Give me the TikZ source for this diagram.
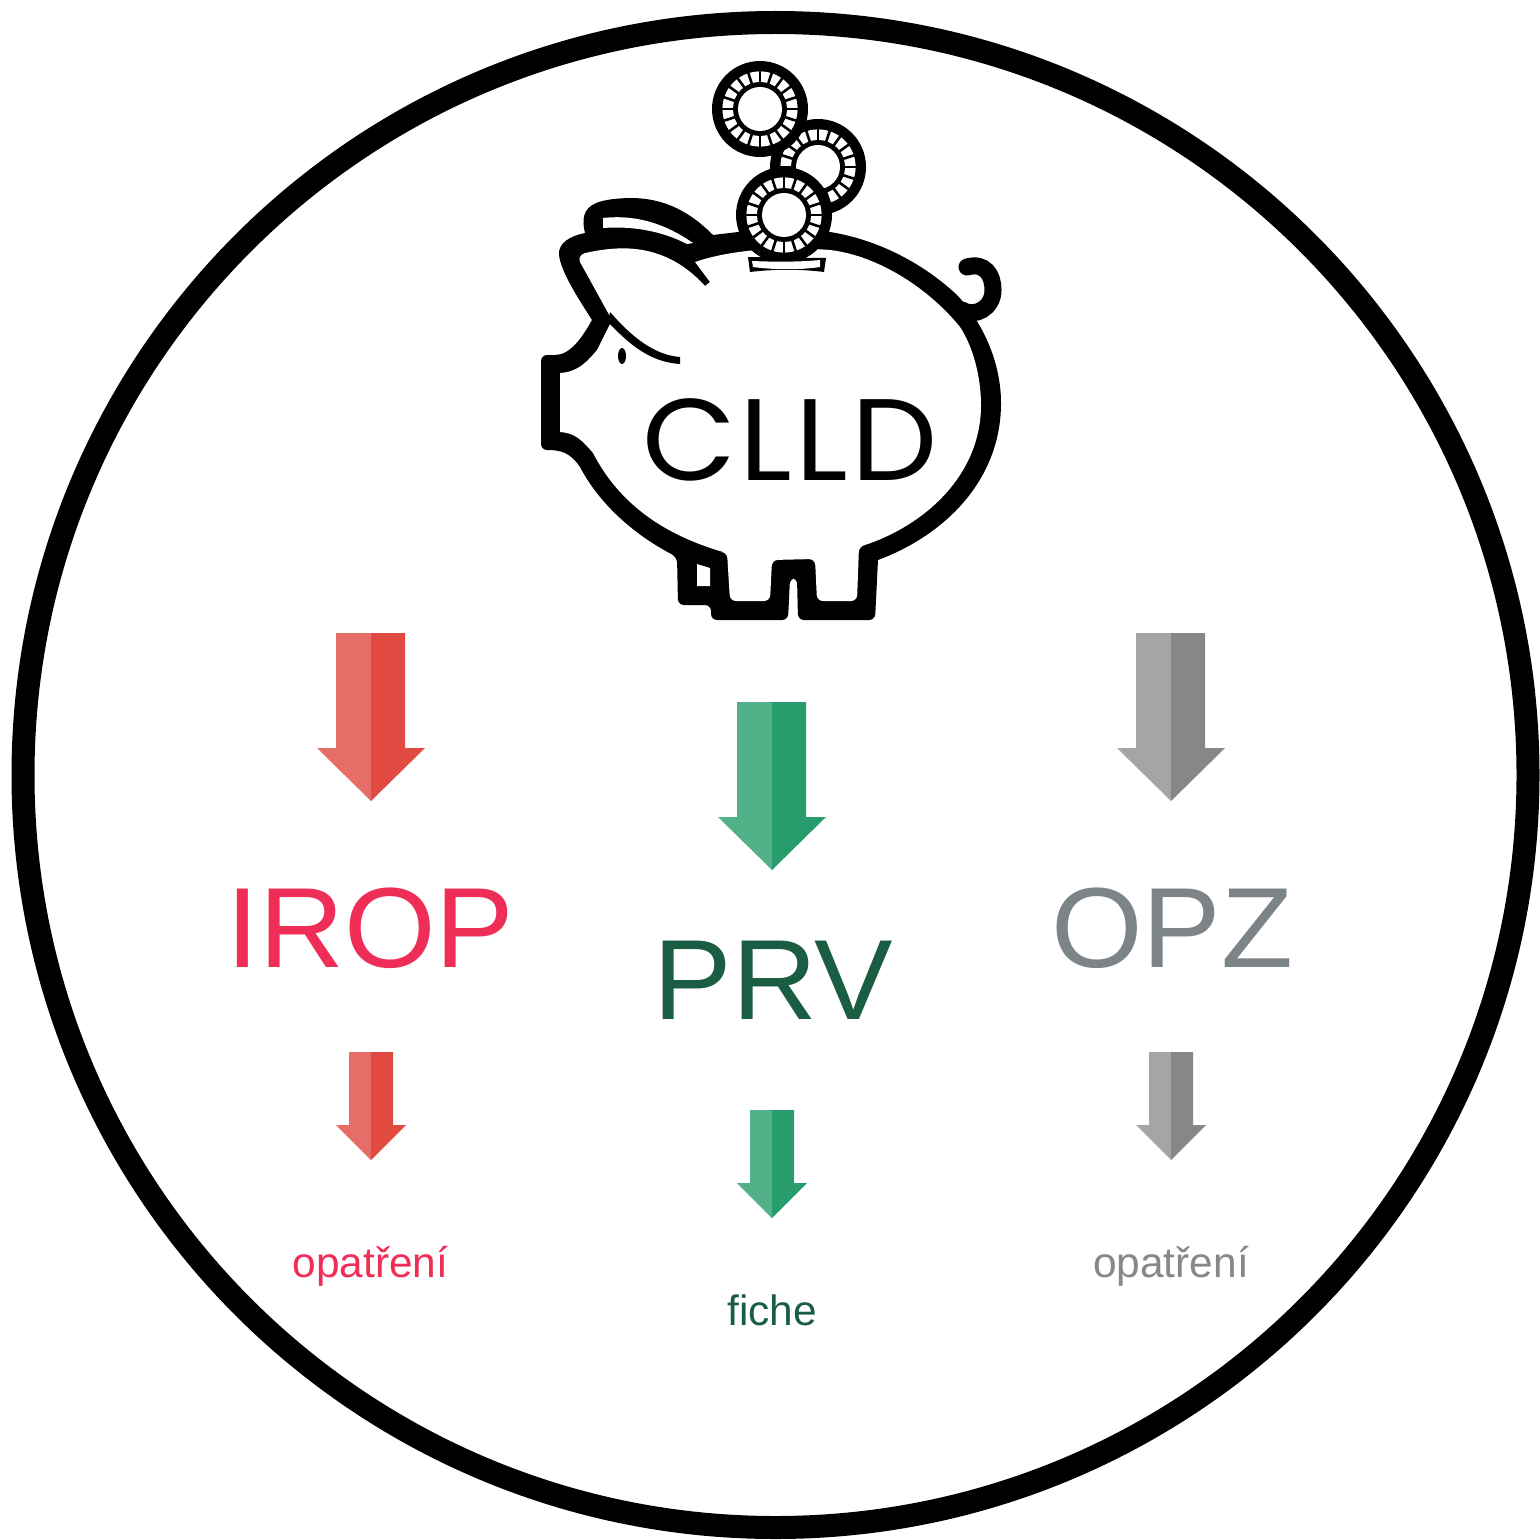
\documentclass[tikz,border=0pt]{standalone}
\usepackage{fontspec}
\setmainfont{Liberation Sans}
\newfontfamily\cllddfont[LetterSpace=3,FakeStretch=1.05]{Poppins}
\newfontfamily\bigfont[FakeStretch=1.032]{Liberation Sans}
\definecolor{iropred}{HTML}{EE2E57}
\definecolor{redlight}{HTML}{E76E68}
\definecolor{reddark}{HTML}{E04A41}
\definecolor{prvgreen}{HTML}{1A5D43}
\definecolor{greenlight}{HTML}{52B189}
\definecolor{greendark}{HTML}{289C6C}
\definecolor{opzgrey}{HTML}{7D8488}
\definecolor{greylight}{HTML}{A5A5A5}
\definecolor{greydark}{HTML}{878787}
\tikzset{
	bigtext/.style={anchor=base, inner sep=0, font=\bigfont\fontsize{57}{57}\selectfont},
	smalltext/.style={anchor=base, inner sep=0, font=\fontsize{21.2}{21.2}\selectfont},
	coin/.pic={
		\fill[black] (0,0) circle[radius=24pt];
		\fill[white] (0,0) circle[radius=18.8pt];
		\foreach \a in {0,18,...,342}
			\draw[black, line width=1.3pt] (\a:12pt) -- (\a:19pt);
		\fill[black] (0,0) circle[radius=13.5pt];
		\fill[white] (0,0) circle[radius=11pt];
	}
}
\begin{document}
\begin{tikzpicture}[x=0.5pt, y=-0.5pt]
\useasboundingbox (0,0) rectangle (1539,1540);
\draw[black, line width=11.5pt] (775.5,775) circle[radius=376.25pt];
\fill[black] (555,355) .. controls (570,355) and (582,338) .. (592,320)
	.. controls (578,298) and (561,272) .. (559,255)
	.. controls (558,243) and (570,236) .. (585,233)
	.. controls (578,205) and (595,199) .. (630,198)
	.. controls (665,198) and (690,212) .. (713,235)
	-- (738,232) -- (830,232)
	.. controls (880,240) and (925,265) .. (957,295)
	.. controls (985,325) and (1001,365) .. (1001,403)
	.. controls (1001,480) and (945,535) .. (878,560)
	[rounded corners=3pt] -- (875,620) -- (798,620) -- (797,578) -- (790,578) -- (788,620) -- (711,620) -- (711,605) -- (678,605) -- (677,557) [sharp corners]
	.. controls (635,535) and (600,505) .. (580,467)
	.. controls (570,452) and (560,450) .. (547,450)
	[rounded corners=3pt] -- (541,450) -- (541,355) [sharp corners] -- cycle;
\fill[white] (560,373) .. controls (580,372) and (590,358) .. (597,350) -- (612,320) -- (580,262)
	.. controls (578,255) and (583,253) .. (590,252)
	.. controls (620,246) and (665,242) .. (705,286)
	-- (710,282) -- (695,262)
	.. controls (730,250) and (780,246) .. (830,250)
	.. controls (880,256) and (930,290) .. (960,327)
	.. controls (972,345) and (981,375) .. (981,405)
	.. controls (981,475) and (925,525) .. (865,545)
	[rounded corners=3pt] -- (859,546) -- (857,601) -- (817,601) -- (815,559) -- (772,560) -- (770,601) -- (730,601) -- (727,552) [sharp corners]
	-- (723,552) .. controls (665,535) and (620,505) .. (593,453)
	.. controls (582,440) and (575,433) .. (560,432)
	-- cycle;
\fill[black] (610,312) .. controls (630,335) and (653,355) .. (680,357) -- (680,364)
	.. controls (650,362) and (630,345) .. (608,322) -- cycle;
\fill[white] (603,218) .. controls (630,215) and (660,220) .. (693,243) -- (687,244)
	.. controls (660,230) and (630,226) .. (603,228) -- cycle;
\fill[white] (697,564) -- (710,568) -- (710,586) -- (697,586) -- cycle;
\fill[black] (622,356) ellipse[x radius=4, y radius=8];
\draw[black, line width=8.5pt, line cap=round] (967,267) .. controls (985,262) and (993,275) .. (993,290)
	.. controls (993,308) and (975,318) .. (962,310);
\pic at (818,167) {coin};
\pic at (760,109) {coin};
\pic at (784,215) {coin};
\fill[black] (748,257) -- (826,258) -- (824,272) .. controls (800,269) and (775,269) .. (750,272) -- cycle;
\fill[white] (752,261) .. controls (775,262) and (800,262) .. (820,260) -- (820,267)
	.. controls (800,270) and (775,270) .. (753,267) -- cycle;
\node[anchor=base, inner sep=0, font=\cllddfont\fontsize{58}{58}\selectfont] (clld) at (790,480) {CLLD};
\foreach \cx/\dy/\lightc/\darkc in {371/0/redlight/reddark, 772/69/greenlight/greendark, 1171/0/greylight/greydark} {
	\fill[\lightc] (\cx,633+\dy) -- (\cx-35,633+\dy) -- (\cx-35,748+\dy) -- (\cx-54,748+\dy) -- (\cx,801+\dy) -- cycle;
	\fill[\darkc] (\cx,633+\dy) -- (\cx+34,633+\dy) -- (\cx+34,748+\dy) -- (\cx+54,748+\dy) -- (\cx,801+\dy) -- cycle;
}
\foreach \cx/\dy/\lightc/\darkc in {371/0/redlight/reddark, 772/58/greenlight/greendark, 1171/0/greylight/greydark} {
	\fill[\lightc] (\cx,1052+\dy) -- (\cx-22,1052+\dy) -- (\cx-22,1125+\dy) -- (\cx-35,1125+\dy) -- (\cx,1160+\dy) -- cycle;
	\fill[\darkc] (\cx,1052+\dy) -- (\cx+22,1052+\dy) -- (\cx+22,1125+\dy) -- (\cx+35,1125+\dy) -- (\cx,1160+\dy) -- cycle;
}
\node[bigtext, text=iropred] (irop) at (370.5,967) {IROP};
\node[bigtext, text=prvgreen] (prv) at (773.5,1019) {PRV};
\node[bigtext, text=opzgrey] (opz) at (1172,967) {OPZ};
\node[smalltext, text=iropred] (opatreniL) at (370.5,1277) {opatření};
\node[smalltext, text=prvgreen] (fiche) at (772,1325) {fiche};
\node[smalltext, text=greydark] (opatreniR) at (1171,1277) {opatření};
\end{tikzpicture}
\end{document}
